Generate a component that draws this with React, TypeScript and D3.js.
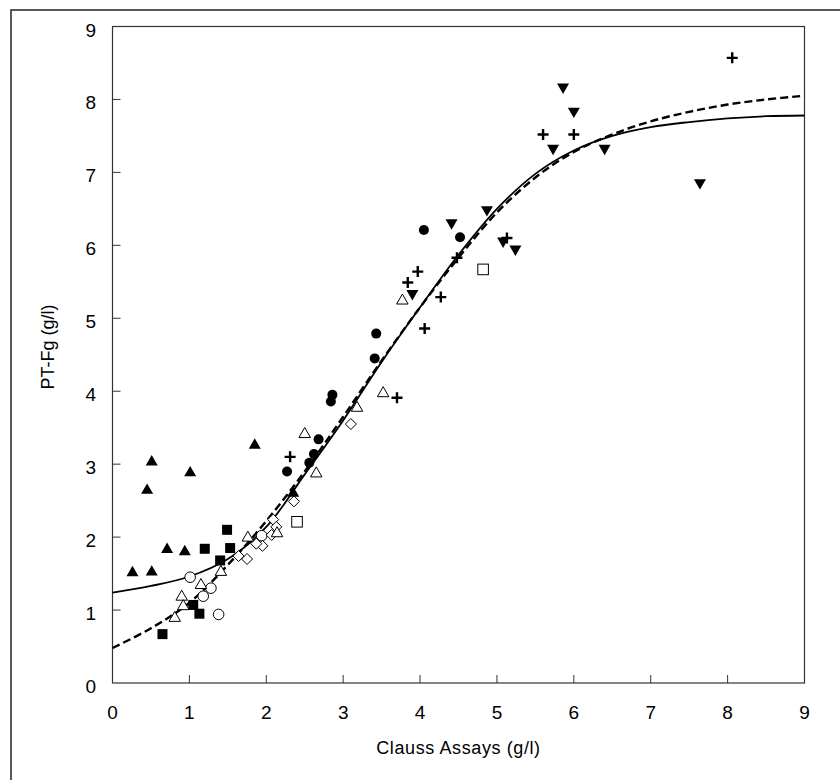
import React from 'react';
import * as d3 from 'd3';

// marker series: [clauss, ptfg]
const filledTriangles: [number, number][] = [
  [0.26, 1.52], [0.51, 1.53], [0.71, 1.84], [0.94, 1.81], [0.45, 2.65],
  [0.51, 3.04], [1.01, 2.89], [1.85, 3.27], [2.35, 2.61],
];
const filledSquares: [number, number][] = [
  [1.49, 2.1], [1.2, 1.84], [1.53, 1.85], [1.4, 1.68], [1.05, 1.07],
  [1.13, 0.95], [0.65, 0.67],
];
const openCircles: [number, number][] = [
  [1.01, 1.45], [1.28, 1.3], [1.18, 1.19], [1.38, 0.94], [1.94, 2.02],
];
const openTriangles: [number, number][] = [
  [0.9, 1.19], [0.81, 0.9], [0.92, 1.06], [1.15, 1.35], [1.41, 1.53],
  [1.76, 2.0], [2.14, 2.06], [2.65, 2.88], [2.5, 3.42], [3.18, 3.78],
  [3.52, 3.98], [3.77, 5.25],
];
const openDiamonds: [number, number][] = [
  [2.36, 2.49], [2.09, 2.24], [2.13, 2.14], [2.07, 2.03], [1.95, 1.88],
  [1.87, 1.91], [1.75, 1.7], [1.64, 1.74], [3.1, 3.55],
];
const openSquares: [number, number][] = [[2.4, 2.21], [4.82, 5.67]];
const filledCircles: [number, number][] = [
  [2.27, 2.9], [2.56, 3.02], [2.62, 3.14], [2.68, 3.34], [2.84, 3.86],
  [2.86, 3.95], [3.41, 4.45], [3.43, 4.79], [4.05, 6.21], [4.52, 6.11],
];
const pluses: [number, number][] = [
  [2.31, 3.1], [3.7, 3.91], [3.84, 5.49], [3.97, 5.64], [4.06, 4.86],
  [4.27, 5.29], [4.48, 5.83], [5.13, 6.1], [5.6, 7.52], [6.0, 7.52], [8.06, 8.57],
];
const downTriangles: [number, number][] = [
  [3.9, 5.33], [4.41, 6.3], [4.87, 6.48], [5.08, 6.05], [5.24, 5.94],
  [5.73, 7.32], [5.86, 8.16], [6.0, 7.83], [6.4, 7.32], [7.64, 6.85],
];

// fitted curves
const curveX = [0, 0.5, 1, 1.5, 2, 2.5, 3, 3.5, 4, 4.5, 5, 5.5, 6, 6.5, 7, 7.5, 8, 8.5, 9];
const solidY = [1.24, 1.33, 1.46, 1.7, 2.14, 2.86, 3.6, 4.4, 5.15, 5.87, 6.5, 6.98, 7.3, 7.5, 7.62, 7.69, 7.74, 7.77, 7.78];
const dashedY = [0.48, 0.75, 1.1, 1.62, 2.22, 2.9, 3.65, 4.42, 5.15, 5.83, 6.45, 6.93, 7.28, 7.52, 7.7, 7.83, 7.93, 8.0, 8.05];

const ticks = [0, 1, 2, 3, 4, 5, 6, 7, 8, 9];

const W = 840, H = 780;
const left = 112.5, right = 804.5, top = 26.5, bottom = 683;
const font = '"Liberation Sans", Arial, sans-serif';

export default function App() {
  const x = d3.scaleLinear().domain([0, 9]).range([left, right]);
  const y = d3.scaleLinear().domain([0, 9]).range([bottom, top]);

  const line = d3.line<number>()
    .x((_, i) => x(curveX[i]))
    .y(d => y(d))
    .curve(d3.curveCatmullRom.alpha(0.5));

  const tri = (cx: number, cy: number, s: number, up: boolean) => {
    const h = s * 0.87;
    return up
      ? `M${cx},${cy - h * 0.6}L${cx + s / 2},${cy + h * 0.4}L${cx - s / 2},${cy + h * 0.4}Z`
      : `M${cx},${cy + h * 0.6}L${cx + s / 2},${cy - h * 0.4}L${cx - s / 2},${cy - h * 0.4}Z`;
  };

  return (
    <svg width={W} height={H} style={{ position: 'absolute', left: 0, top: 0, background: '#fff' }}>
      {/* outer figure frame */}
      <path d={`M11,${H}V10H${W}`} fill="none" stroke="#222" strokeWidth={1.5} />

      {/* plot box */}
      <rect x={left} y={top} width={right - left} height={bottom - top} fill="none" stroke="#333" strokeWidth={1.2} />

      {ticks.map(t => (
        <g key={'t' + t}>
          {t > 0 && t < 9 && <line x1={x(t)} x2={x(t)} y1={bottom} y2={bottom - 8} stroke="#333" />}
          {t > 0 && t < 9 && <line x1={left} x2={left + 8} y1={y(t)} y2={y(t)} stroke="#333" />}
          <text x={x(t)} y={bottom + 36} textAnchor="middle" fontFamily={font} fontSize={19}>{t}</text>
          <text x={96} y={y(t) + 10} textAnchor="end" fontFamily={font} fontSize={19}>{t}</text>
        </g>
      ))}

      <text x={(left + right) / 2} y={754} textAnchor="middle" fontFamily={font} fontSize={18} letterSpacing={0.6}>Clauss Assays (g/l)</text>
      <text transform="translate(54,347) rotate(-90)" textAnchor="middle" fontFamily={font} fontSize={18}>PT-Fg (g/l)</text>

      {/* curves */}
      <path d={line(solidY) || ''} fill="none" stroke="#000" strokeWidth={1.8} />
      <path d={line(dashedY) || ''} fill="none" stroke="#000" strokeWidth={2.4} strokeDasharray="8,4" />

      {/* markers */}
      {openCircles.map((d, i) => (
        <circle key={'oc' + i} cx={x(d[0])} cy={y(d[1])} r={5.3} fill="#fff" stroke="#000" strokeWidth={1} />
      ))}
      {openDiamonds.map((d, i) => {
        const cx = x(d[0]), cy = y(d[1]), r = 5.5;
        return <path key={'od' + i} d={`M${cx},${cy - r}L${cx + r},${cy}L${cx},${cy + r}L${cx - r},${cy}Z`} fill="#fff" stroke="#000" strokeWidth={1} />;
      })}
      {openTriangles.map((d, i) => (
        <path key={'ot' + i} d={tri(x(d[0]), y(d[1]), 11.5, true)} fill="#fff" stroke="#000" strokeWidth={1} />
      ))}
      {openSquares.map((d, i) => (
        <rect key={'os' + i} x={x(d[0]) - 5.3} y={y(d[1]) - 5.3} width={10.6} height={10.6} fill="#fff" stroke="#000" strokeWidth={1} />
      ))}
      {filledSquares.map((d, i) => (
        <rect key={'fs' + i} x={x(d[0]) - 5} y={y(d[1]) - 5} width={10} height={10} fill="#000" />
      ))}
      {filledTriangles.map((d, i) => (
        <path key={'ft' + i} d={tri(x(d[0]), y(d[1]), 12, true)} fill="#000" />
      ))}
      {filledCircles.map((d, i) => (
        <circle key={'fc' + i} cx={x(d[0])} cy={y(d[1])} r={5} fill="#000" />
      ))}
      {downTriangles.map((d, i) => (
        <path key={'dt' + i} d={tri(x(d[0]), y(d[1]), 12, false)} fill="#000" />
      ))}
      {pluses.map((d, i) => {
        const cx = x(d[0]), cy = y(d[1]), r = 5.5;
        return <path key={'p' + i} d={`M${cx - r},${cy}H${cx + r}M${cx},${cy - r}V${cy + r}`} stroke="#000" strokeWidth={2.4} />;
      })}
    </svg>
  );
}
